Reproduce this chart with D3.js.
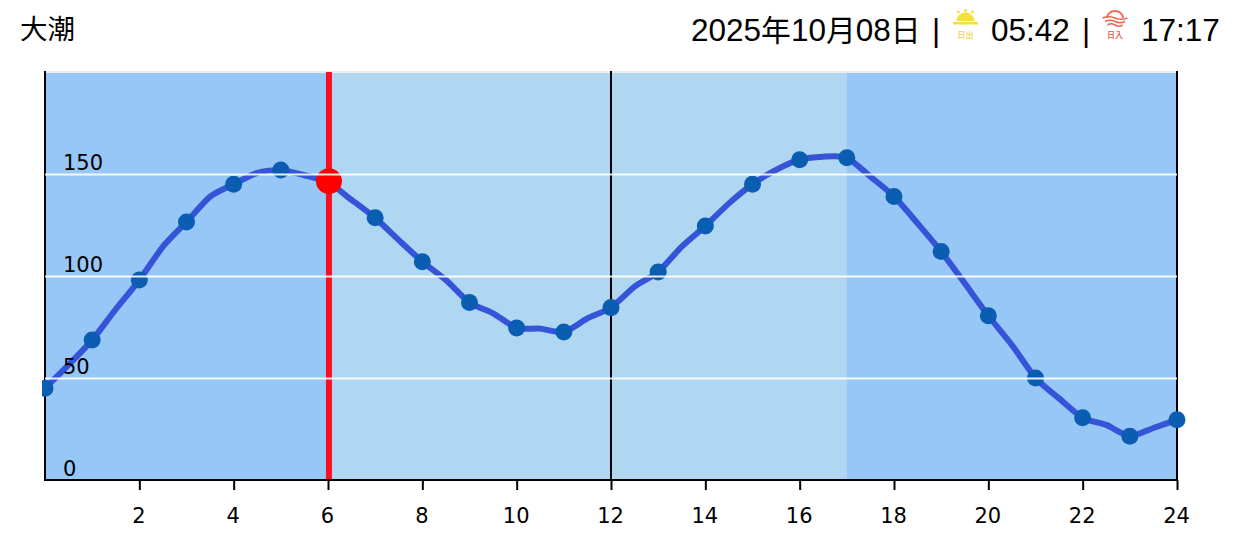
<!DOCTYPE html>
<html>
<head>
<meta charset="utf-8">
<title>潮汐</title>
<script src="https://d3js.org/d3.v7.min.js"></script>
<style>
  html, body { margin: 0; padding: 0; background: #fff; }
  svg { display: block; }
  .head { font-family: 'Liberation Sans', 'Noto Sans CJK JP', sans-serif; font-size: 31.5px; fill: #000; }
  .head .cjk { font-size: 29.8px; font-family: 'Noto Sans CJK JP', sans-serif; }
  .axis text { font-family: 'DejaVu Sans', sans-serif; font-size: 21px; fill: #000; }
</style>
</head>
<body>
<div id="chart"></div>
<script>
/*--- Data ---*/
var hours = [0,0.5,1,1.5,2,2.5,3,3.5,4,4.5,5,5.5,6,6.5,7,7.5,8,8.5,9,9.5,10,10.5,11,11.5,12,
             12.5,13,13.5,14,14.5,15,15.5,16,16.5,17,17.5,18,18.5,19,19.5,20,20.5,21,21.5,22,22.5,23,23.5,24];
var tide = [45,56.4,68.6,83.7,98,114.4,126.5,138.9,145,150.6,152,149.4,146,137.3,128.5,117.6,107,98,87,81.7,74.5,74.2,72.5,79.2,84.5,
            94.8,102,114.4,124.5,135.6,145,152,157,158.5,158,148.7,139,125.8,112,96.4,80.5,66.2,50,40,30.5,27,21.5,25.5,29.5];
var xTicks = [2,4,6,8,10,12,14,16,18,20,22,24];
var yTicks = [0,50,100,150];
var daylight = [6, 17];
var nowHour = 6.02;
var nowLevel = 146.5;
var tideName = "大潮";
var dateParts = ["2025", "年", "10", "月", "08", "日"];
var sunriseText = "05:42";
var sunsetText = "17:17";

var width = 1239, height = 559;

var x = d3.scaleLinear().domain([0, 24]).range([45, 1177]);
var y = d3.scaleLinear().domain([0, 200]).range([480, 72]);

var svg = d3.select("#chart").append("svg")
  .attr("width", width)
  .attr("height", height);

/*--- Night / day bands ---*/
svg.append("rect")
  .attr("x", x(0)).attr("y", y(200))
  .attr("width", x(24) - x(0)).attr("height", y(0) - y(200))
  .attr("fill", "#97c7f7");
svg.append("rect")
  .attr("x", x(daylight[0])).attr("y", y(200))
  .attr("width", x(daylight[1]) - x(daylight[0])).attr("height", y(0) - y(200))
  .attr("fill", "#afd7f1");

/*--- Grid lines, the labels sit inside the plot ---*/
var yAxis = svg.append("g")
  .attr("class", "axis")
  .attr("transform", "translate(45,0)")
  .call(d3.axisRight(y).tickValues(yTicks).tickSize(1132).tickFormat(d3.format("d")));
yAxis.select(".domain").remove();
yAxis.selectAll(".tick line").attr("stroke", "#fff").attr("stroke-width", 2).attr("opacity", 0.9)
  .filter(function(d) { return d === 0; }).remove();

svg.append("line")
  .attr("x1", x(0)).attr("x2", x(24)).attr("y1", y(200)).attr("y2", y(200))
  .attr("stroke", "#eeeeee").attr("stroke-width", 2);

/*--- Black hour lines ---*/
[0, 12, 24].forEach(function(h) {
  svg.append("line")
    .attr("x1", x(h)).attr("x2", x(h))
    .attr("y1", y(200) - 1).attr("y2", y(0))
    .attr("stroke", "#000").attr("stroke-width", 2);
});

/*--- Tide curve ---*/
var line = d3.line()
  .x(function(d, i) { return x(hours[i]); })
  .y(function(d) { return y(d); })
  .curve(d3.curveCardinal.tension(0.3));

svg.append("path")
  .datum(tide)
  .attr("d", line)
  .attr("fill", "none")
  .attr("stroke", "#3554d8")
  .attr("stroke-width", 6);

svg.append("clipPath").attr("id", "dots-clip").append("rect")
  .attr("x", 42).attr("y", 60).attr("width", 1170).attr("height", 430);

var whole = hours.map(function(h, i) { return {h: h, v: tide[i]}; })
  .filter(function(d) { return d.h % 1 === 0; });

svg.append("g").attr("clip-path", "url(#dots-clip)")
  .selectAll("circle").data(whole).enter().append("circle")
  .attr("cx", function(d) { return x(d.h); })
  .attr("cy", function(d) { return y(d.v); })
  .attr("r", 8.5)
  .attr("fill", "#0a5db1");

/*--- Current time marker ---*/
svg.append("line")
  .attr("x1", x(nowHour)).attr("x2", x(nowHour))
  .attr("y1", y(200)).attr("y2", y(0))
  .attr("stroke", "#ff0d25").attr("stroke-width", 6);
svg.append("circle")
  .attr("cx", x(nowHour)).attr("cy", y(nowLevel))
  .attr("r", 13)
  .attr("fill", "#ff0000");

/*--- Y labels go over the curve ---*/
yAxis.raise();
yAxis.selectAll(".tick text")
  .attr("x", 18).attr("y", -5).attr("dy", 0)
  .attr("text-anchor", "start");

/*--- X axis ---*/
var xAxis = svg.append("g")
  .attr("class", "axis")
  .attr("transform", "translate(0,480)")
  .call(d3.axisBottom(x).tickValues(xTicks).tickSize(10).tickSizeOuter(0).tickPadding(18).tickFormat(d3.format("d")));
xAxis.select(".domain").attr("stroke", "#000").attr("stroke-width", 2).attr("d", "M44,0H1178");
xAxis.selectAll(".tick line").attr("stroke", "#000").attr("stroke-width", 2);
xAxis.selectAll(".tick text").attr("dx", -1);

/*--- Header ---*/
function headText(px, str) {
  return svg.append("text").attr("class", "head").attr("x", px).attr("y", 41).text(str);
}
headText(20, tideName).style("font-size", "27.5px").attr("y", 39);

var dateLabel = headText(691, "");
dateParts.forEach(function(part, i) {
  dateLabel.append("tspan").attr("class", i % 2 ? "cjk" : null).text(part);
});
headText(932, "|");
headText(991, sunriseText);
headText(1082, "|");
headText(1141, sunsetText);

/*--- Sunrise icon ---*/
var sun = svg.append("g").attr("transform", "translate(965.5,22)");
var sunColor = "#f5df3d";
sun.append("path").attr("d", "M-9,-1A9,8.5 0 0 1 9,-1Z").attr("fill", sunColor);
sun.append("rect").attr("x", -12.5).attr("y", 0).attr("width", 25).attr("height", 2.5).attr("fill", sunColor);
[[0,-13,0,-10],[-8,-11,-6,-9],[8,-11,6,-9]].forEach(function(r) {
  sun.append("line").attr("x1", r[0]).attr("y1", r[1]).attr("x2", r[2]).attr("y2", r[3])
    .attr("stroke", sunColor).attr("stroke-width", 2.4);
});
sun.append("text").attr("x", 0).attr("y", 15.5).attr("text-anchor", "middle")
  .style("font-family", "'Noto Sans CJK JP', sans-serif").style("font-size", "8px").style("font-weight", 700)
  .attr("fill", "#efdc68").text("日出");

/*--- Sunset icon ---*/
var set = svg.append("g").attr("transform", "translate(1115,18)");
var setColor = "#ee6a55";
set.append("path").attr("d", "M-8,0A8,7 0 0 1 8,0").attr("fill", "none").attr("stroke", setColor).attr("stroke-width", 1.8);
[0, 3.5, 7].forEach(function(dy, i) {
  var w = 12.5 - i * 2.5;
  set.append("path")
    .attr("d", "M" + (-w) + "," + dy + "q" + (w / 2) + ",-2.5 " + w + ",0q" + (w / 2) + ",2.5 " + w + ",0")
    .attr("fill", "none").attr("stroke", setColor).attr("stroke-width", 1.7);
});
set.append("text").attr("x", 0).attr("y", 19.5).attr("text-anchor", "middle")
  .style("font-family", "'Noto Sans CJK JP', sans-serif").style("font-size", "8px").style("font-weight", 700)
  .attr("fill", "#e8705f").text("日入");
</script>
</body>
</html>
